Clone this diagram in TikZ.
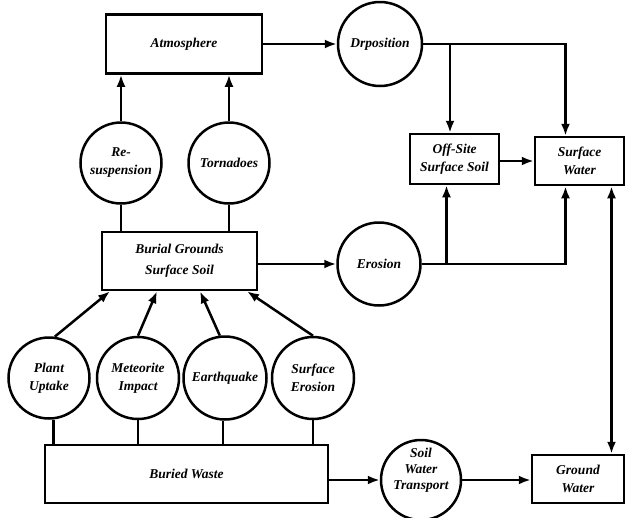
\documentclass[tikz,border=0pt]{standalone}
\usepackage{fontspec}
\setmainfont{Liberation Serif}
\usetikzlibrary{arrows.meta}
\begin{document}
\begin{tikzpicture}[x=1pt,y=-1pt,
  every node/.style={font=\fontsize{13.5}{18}\selectfont\bfseries\itshape, align=center, inner sep=0pt},
  boxn/.style={draw, line width=2.5pt, rectangle},
  circn/.style={draw, line width=2.5pt, circle},
  ln/.style={line width=2.5pt},
  arr/.style={ln, -{Latex[length=12pt,width=9pt]}},
  arrb/.style={ln, {Latex[length=12pt,width=9pt]}-{Latex[length=12pt,width=9pt]}}
]
\useasboundingbox (0,0) rectangle (626,517);
% boxes
\node[boxn, minimum width=156pt, minimum height=59pt] (atm) at (184,44) {Atmosphere};
\node[boxn, minimum width=155pt, minimum height=58pt] (burial) at (179.5,261) {Burial Grounds\\[3pt]Surface Soil};
\node[boxn, minimum width=89pt, minimum height=50pt] (offsite) at (454.5,159) {Off-Site\\Surface Soil};
\node[boxn, minimum width=89pt, minimum height=48pt] (surfw) at (579.5,161) {Surface\\Water};
\node[boxn, minimum width=283pt, minimum height=58pt] (buried) at (186.5,474) {Buried Waste};
\node[boxn, minimum width=92pt, minimum height=48pt] (gw) at (578,479) {Ground\\Water};
% circles
\node[circn, minimum size=81pt] (resus) at (121,163) {Re-\\suspension};
\node[circn, minimum size=81pt] (torn) at (229,163) {Tornadoes};
\node[circn, minimum size=84pt] (dep) at (380,44) {Drposition};
\node[circn, minimum size=83pt] (eros) at (379,264) {Erosion};
\node[circn, minimum size=81pt] (plant) at (49,378) {Plant\\Uptake};
\node[circn, minimum size=82pt] (meteor) at (138,378) {Meteorite\\Impact};
\node[circn, minimum size=83pt] (earth) at (225,378) {Earthquake};
\node[circn, minimum size=82pt] (surfer) at (313,378) {Surface\\Erosion};
\node[circn, minimum size=80pt] (swt) at (421,480) {};
\node[font=\fontsize{13.5}{16}\selectfont\bfseries\itshape] (swtlabel) at ([yshift=10pt]swt.center) {Soil\\Water\\Transport};
% top connectors
\draw[arr] (resus.north) -- (resus.north |- atm.south);
\draw[arr] (torn.north) -- (torn.north |- atm.south);
\draw[ln] (resus.south) -- (resus.south |- burial.north);
\draw[ln] (torn.south) -- (torn.south |- burial.north);
\draw[arr] (atm.east) -- (dep.west);
\draw[arr] (dep.east) -| ([xshift=-14pt]surfw.north);
\draw[arr] ([xshift=-4.5pt]offsite.north |- dep.east) -- ([xshift=-4.5pt]offsite.north);
\draw[arr] (offsite.east |- surfw.west) -- (surfw.west);
\draw[arr] (burial.east |- eros.west) -- (eros.west);
\draw[arr] (eros.east) -| ([xshift=-14pt]surfw.south);
\draw[arr] ([xshift=-8pt]offsite.south |- eros.east) -- ([xshift=-8pt]offsite.south);
\draw[arrb] ([xshift=32pt]surfw.south) -- ([xshift=32pt]surfw.south |- gw.north);
% bottom circles to burial grounds
\draw[arr] (plant.82) -- ([xshift=-69.5pt]burial.south);
\draw[arr] (meteor.north) -- ([xshift=-22.5pt]burial.south);
\draw[arr] (earth.97) -- ([xshift=20.5pt]burial.south);
\draw[arr] (surfer.north) -- ([xshift=67.5pt]burial.south);
% bottom circles to buried waste
\draw[ln] (plant.-84) -- (plant.-84 |- buried.north);
\draw[ln] (meteor.south) -- (meteor.south |- buried.north);
\draw[ln] (earth.-93) -- (earth.-93 |- buried.north);
\draw[ln] (surfer.south) -- (surfer.south |- buried.north);
% bottom flow
\draw[arr] (buried.east |- swt.west) -- (swt.west);
\draw[arr] (swt.east) -- (swt.east -| gw.west);
\end{tikzpicture}
\end{document}
